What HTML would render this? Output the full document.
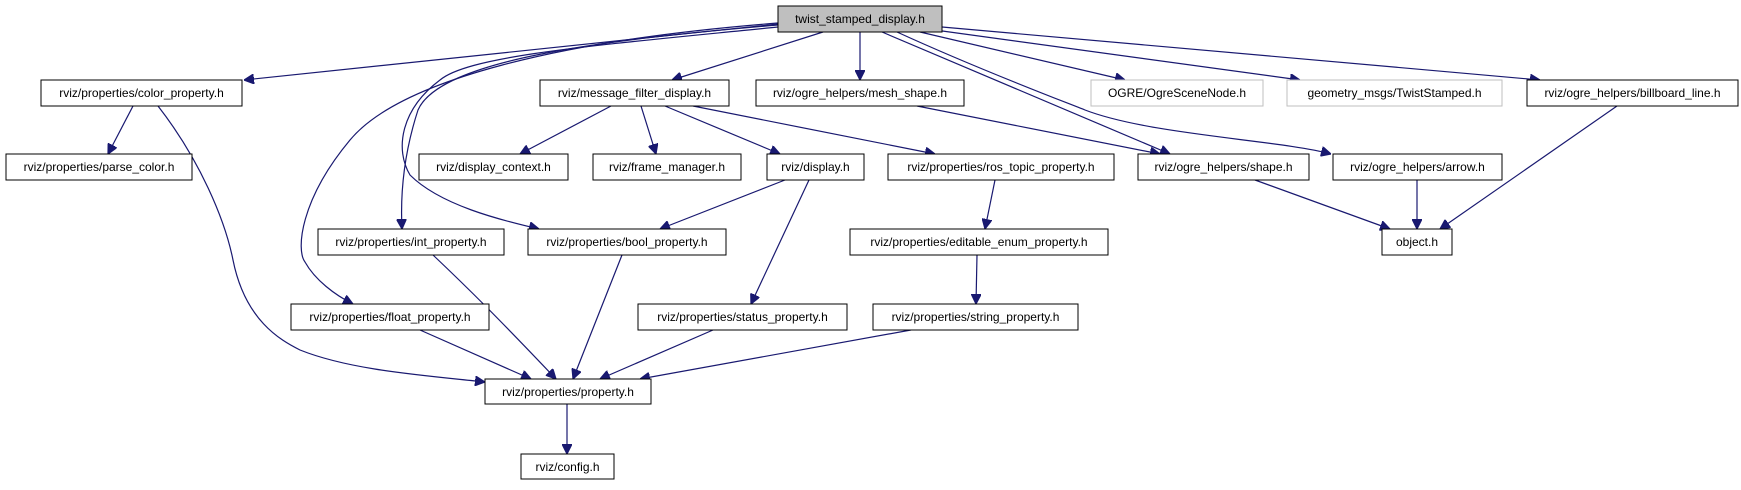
<!DOCTYPE html>
<html><head><meta charset="utf-8"><style>
body{margin:0;background:#fff}
text{font-family:"Liberation Sans",sans-serif;font-size:12px;text-anchor:middle}
rect{fill:#fff;stroke:#000;stroke-width:1}
rect.g{stroke:#bfbfbf}
path{fill:none;stroke:#191970;stroke-width:1.2}
</style></head><body>
<svg width="1741" height="485" xmlns="http://www.w3.org/2000/svg">
<defs><marker id="a" viewBox="0 0 10 10" refX="10" refY="5" markerWidth="10" markerHeight="10" markerUnits="userSpaceOnUse" orient="auto"><path d="M0,0 L10,5 L0,10 z" style="fill:#191970;stroke:#191970"/></marker></defs>
<g marker-end="url(#a)">
<path d="M778,24 L244,80"/>
<path d="M778,25 C600,40 440,60 418,110 C405,150 400,190 402,229"/>
<path d="M778,23 C560,40 400,80 350,140 C300,200 296,250 305,262 C315,280 335,295 353,304"/>
<path d="M778,27 C600,45 470,55 440,80 C400,110 395,150 410,175 C440,205 500,220 539,229"/>
<path d="M823,32 L672,80"/>
<path d="M860,32 L860,80"/>
<path d="M882,32 L1170,154"/>
<path d="M897,32 C980,70 1060,100 1085,110 C1150,135 1280,140 1331,154"/>
<path d="M920,32 L1125,80"/>
<path d="M935,30 L1300,80"/>
<path d="M942,27 L1540,80"/>
<path d="M133,106 L108,154"/>
<path d="M158,106 C200,160 225,220 233,260 C245,320 280,340 300,350 C350,370 420,375 485,382"/>
<path d="M611,106 L520,154"/>
<path d="M641,106 L656,154"/>
<path d="M665,106 L780,154"/>
<path d="M693,106 L935,154"/>
<path d="M917,106 L1160,154"/>
<path d="M785,180 L660,229"/>
<path d="M809,180 L751,304"/>
<path d="M995,180 L985,229"/>
<path d="M1255,180 L1390,229"/>
<path d="M1417,180 L1417,229"/>
<path d="M1617,106 L1440,229"/>
<path d="M977,255 L976,304"/>
<path d="M433,255 C470,290 500,320 556,379"/>
<path d="M622,255 L573,379"/>
<path d="M420,330 L531,379"/>
<path d="M713,330 L600,379"/>
<path d="M911,330 L640,379"/>
<path d="M567,404 L567,454"/>
</g>
<rect x="778" y="6" width="164" height="26" style="fill:#bfbfbf"/><text x="860" y="23">twist_stamped_display.h</text>
<rect x="41" y="80" width="201" height="26"/><text x="141.5" y="97">rviz/properties/color_property.h</text>
<rect x="540" y="80" width="189" height="26"/><text x="634.5" y="97">rviz/message_filter_display.h</text>
<rect x="756" y="80" width="208" height="26"/><text x="860" y="97">rviz/ogre_helpers/mesh_shape.h</text>
<rect class="g" x="1091" y="80" width="172" height="26"/><text x="1177" y="97">OGRE/OgreSceneNode.h</text>
<rect class="g" x="1287" y="80" width="215" height="26"/><text x="1394.5" y="97">geometry_msgs/TwistStamped.h</text>
<rect x="1527" y="80" width="211" height="26"/><text x="1632.5" y="97">rviz/ogre_helpers/billboard_line.h</text>
<rect x="6" y="154" width="186" height="26"/><text x="99" y="171">rviz/properties/parse_color.h</text>
<rect x="419" y="154" width="149" height="26"/><text x="493.5" y="171">rviz/display_context.h</text>
<rect x="593" y="154" width="148" height="26"/><text x="667" y="171">rviz/frame_manager.h</text>
<rect x="767" y="154" width="97" height="26"/><text x="815.5" y="171">rviz/display.h</text>
<rect x="888" y="154" width="226" height="26"/><text x="1001" y="171">rviz/properties/ros_topic_property.h</text>
<rect x="1138" y="154" width="171" height="26"/><text x="1223.5" y="171">rviz/ogre_helpers/shape.h</text>
<rect x="1333" y="154" width="169" height="26"/><text x="1417.5" y="171">rviz/ogre_helpers/arrow.h</text>
<rect x="318" y="229" width="186" height="26"/><text x="411" y="246">rviz/properties/int_property.h</text>
<rect x="528" y="229" width="198" height="26"/><text x="627" y="246">rviz/properties/bool_property.h</text>
<rect x="850" y="229" width="258" height="26"/><text x="979" y="246">rviz/properties/editable_enum_property.h</text>
<rect x="1382" y="229" width="70" height="26"/><text x="1417" y="246">object.h</text>
<rect x="291" y="304" width="198" height="26"/><text x="390" y="321">rviz/properties/float_property.h</text>
<rect x="638" y="304" width="209" height="26"/><text x="742.5" y="321">rviz/properties/status_property.h</text>
<rect x="873" y="304" width="205" height="26"/><text x="975.5" y="321">rviz/properties/string_property.h</text>
<rect x="485" y="379" width="166" height="25"/><text x="568" y="396">rviz/properties/property.h</text>
<rect x="521" y="454" width="93" height="25"/><text x="567.5" y="471">rviz/config.h</text>
</svg>
</body></html>
